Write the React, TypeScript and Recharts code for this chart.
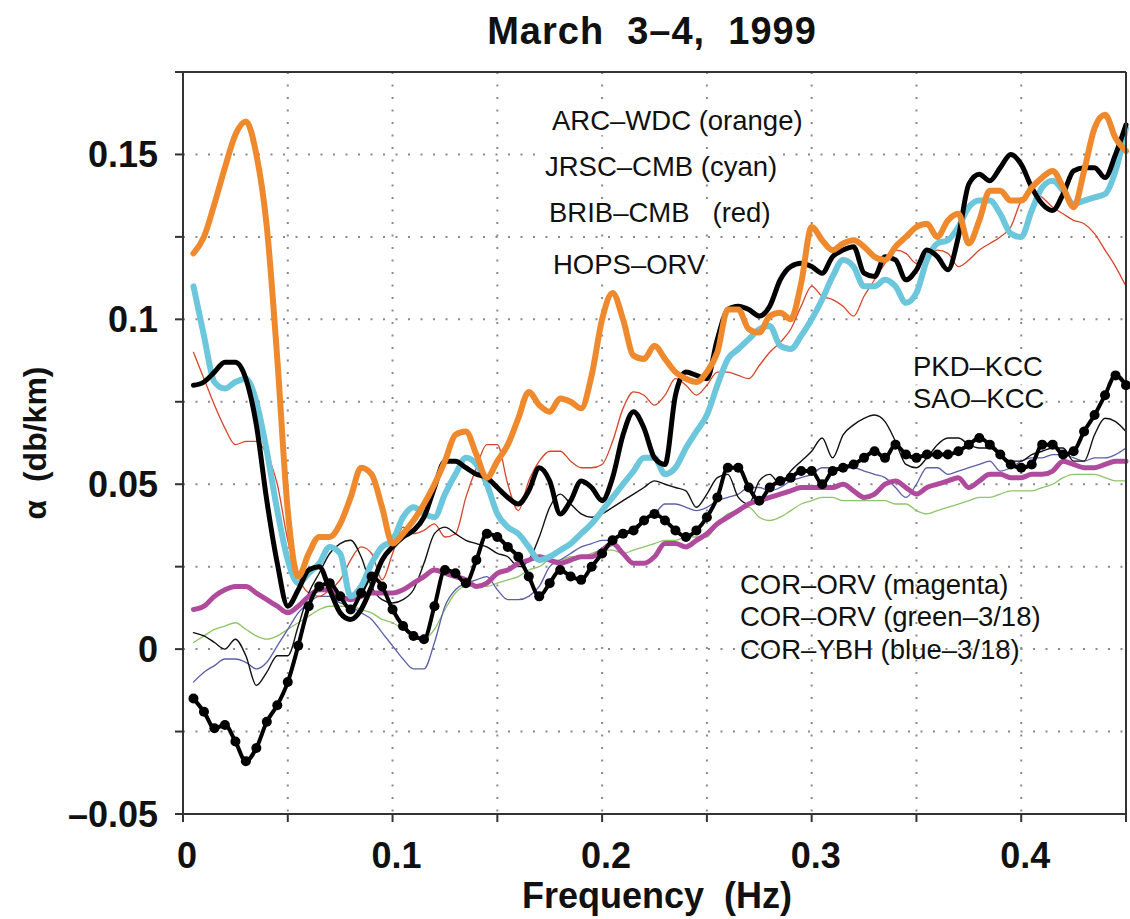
import { CartesianGrid, Line, LineChart, XAxis, YAxis } from "recharts";

const FONT = "'Liberation Sans', Arial, Helvetica, sans-serif";

// frequency grid, Hz
const freqs = Array.from({ length: 90 }, (_, i) => Number(((i + 1) * 0.005).toFixed(3)));

// attenuation (db/km) per station pair
const arcWdc = [
  0.120, 0.125, 0.135, 0.146, 0.156, 0.160, 0.150, 0.128, 0.088, 0.042,
  0.022, 0.029, 0.034, 0.034, 0.038, 0.046, 0.055, 0.053, 0.043, 0.032,
  0.035, 0.039, 0.044, 0.050, 0.057, 0.065, 0.066, 0.059, 0.052, 0.057,
  0.062, 0.070, 0.078, 0.074, 0.072, 0.076, 0.075, 0.073, 0.083, 0.100,
  0.108, 0.100, 0.089, 0.088, 0.092, 0.088, 0.084, 0.082, 0.081, 0.084,
  0.090, 0.103, 0.103, 0.097, 0.096, 0.101, 0.102, 0.100, 0.111, 0.128,
  0.124, 0.121, 0.123, 0.124, 0.122, 0.119, 0.118, 0.122, 0.125, 0.128,
  0.129, 0.125, 0.130, 0.132, 0.123, 0.130, 0.139, 0.139, 0.136, 0.136,
  0.140, 0.143, 0.145, 0.140, 0.134, 0.145, 0.158, 0.162, 0.155, 0.151,
];

const jrscCmb = [
  0.110, 0.095, 0.081, 0.079, 0.081, 0.082, 0.075, 0.060, 0.042, 0.027,
  0.020, 0.023, 0.026, 0.031, 0.029, 0.016, 0.019, 0.026, 0.031, 0.033,
  0.040, 0.043, 0.041, 0.040, 0.047, 0.053, 0.058, 0.056, 0.050, 0.041,
  0.037, 0.035, 0.031, 0.027, 0.028, 0.030, 0.032, 0.035, 0.038, 0.042,
  0.046, 0.050, 0.054, 0.058, 0.058, 0.053, 0.055, 0.061, 0.066, 0.071,
  0.080, 0.088, 0.091, 0.094, 0.097, 0.098, 0.092, 0.091, 0.095, 0.100,
  0.106, 0.113, 0.118, 0.116, 0.110, 0.110, 0.112, 0.110, 0.105, 0.108,
  0.118, 0.123, 0.124, 0.128, 0.134, 0.136, 0.136, 0.132, 0.126, 0.125,
  0.133, 0.140, 0.142, 0.139, 0.135, 0.136, 0.137, 0.138, 0.145, 0.158,
];

const bribCmb = [
  0.090, 0.082, 0.074, 0.067, 0.062, 0.063, 0.063, 0.059, 0.050, 0.033,
  0.022, 0.017, 0.016, 0.018, 0.021, 0.027, 0.031, 0.029, 0.021, 0.029,
  0.037, 0.035, 0.036, 0.038, 0.034, 0.035, 0.046, 0.055, 0.062, 0.062,
  0.050, 0.042, 0.051, 0.057, 0.060, 0.060, 0.057, 0.055, 0.055, 0.056,
  0.063, 0.073, 0.078, 0.077, 0.074, 0.077, 0.082, 0.080, 0.077, 0.080,
  0.084, 0.084, 0.083, 0.082, 0.086, 0.090, 0.093, 0.097, 0.104, 0.110,
  0.107, 0.106, 0.104, 0.101, 0.107, 0.112, 0.117, 0.121, 0.120, 0.117,
  0.119, 0.121, 0.120, 0.116, 0.118, 0.121, 0.123, 0.125, 0.128, 0.136,
  0.139, 0.137, 0.134, 0.132, 0.130, 0.129, 0.126, 0.121, 0.116, 0.110,
];

const hopsOrv = [
  0.080, 0.081, 0.084, 0.087, 0.087, 0.082, 0.068, 0.045, 0.026, 0.013,
  0.018, 0.024, 0.025, 0.018, 0.011, 0.009, 0.012, 0.019, 0.027, 0.031,
  0.034, 0.036, 0.040, 0.049, 0.057, 0.057, 0.055, 0.053, 0.052, 0.049,
  0.046, 0.044, 0.048, 0.055, 0.051, 0.041, 0.045, 0.051, 0.049, 0.045,
  0.052, 0.065, 0.072, 0.067, 0.058, 0.056, 0.077, 0.084, 0.083, 0.082,
  0.094, 0.103, 0.104, 0.103, 0.101, 0.104, 0.112, 0.116, 0.117, 0.116,
  0.114, 0.119, 0.121, 0.122, 0.114, 0.113, 0.119, 0.118, 0.112, 0.115,
  0.121, 0.119, 0.115, 0.125, 0.141, 0.144, 0.142, 0.146, 0.150, 0.147,
  0.140, 0.135, 0.133, 0.138, 0.145, 0.146, 0.146, 0.143, 0.150, 0.159,
];

const pkdKcc = [
  0.005, 0.004, 0.002, 0.000, 0.003, -0.002, -0.011, -0.007, -0.002, -0.002,
  0.007, 0.017, 0.023, 0.029, 0.032, 0.033, 0.028, 0.019, 0.015, 0.014,
  0.015, 0.018, 0.026, 0.035, 0.037, 0.035, 0.033, 0.032, 0.031, 0.029,
  0.028, 0.025, 0.027, 0.034, 0.043, 0.047, 0.044, 0.041, 0.040, 0.041,
  0.043, 0.045, 0.047, 0.049, 0.051, 0.050, 0.049, 0.048, 0.043, 0.047,
  0.052, 0.053, 0.046, 0.044, 0.051, 0.053, 0.050, 0.054, 0.057, 0.060,
  0.064, 0.058, 0.065, 0.068, 0.070, 0.071, 0.069, 0.063, 0.056, 0.055,
  0.058, 0.062, 0.064, 0.064, 0.062, 0.061, 0.061, 0.059, 0.057, 0.057,
  0.059, 0.060, 0.061, 0.061, 0.057, 0.057, 0.065, 0.070, 0.069, 0.066,
];

const saoKcc = [
  -0.015, -0.019, -0.024, -0.023, -0.028, -0.034, -0.030, -0.022, -0.017, -0.010,
  0.001, 0.013, 0.019, 0.020, 0.016, 0.012, 0.017, 0.022, 0.019, 0.012,
  0.007, 0.004, 0.003, 0.013, 0.024, 0.023, 0.020, 0.027, 0.035, 0.034,
  0.031, 0.028, 0.022, 0.016, 0.020, 0.024, 0.022, 0.021, 0.025, 0.029,
  0.033, 0.035, 0.036, 0.039, 0.041, 0.039, 0.036, 0.034, 0.036, 0.040,
  0.046, 0.055, 0.055, 0.049, 0.045, 0.049, 0.051, 0.052, 0.054, 0.054,
  0.050, 0.054, 0.055, 0.056, 0.058, 0.060, 0.058, 0.062, 0.059, 0.058,
  0.059, 0.059, 0.059, 0.060, 0.062, 0.064, 0.062, 0.059, 0.056, 0.055,
  0.056, 0.062, 0.062, 0.059, 0.060, 0.066, 0.071, 0.077, 0.083, 0.080,
];

const corOrv = [
  0.012, 0.013, 0.016, 0.018, 0.019, 0.019, 0.017, 0.015, 0.013, 0.011,
  0.013, 0.016, 0.018, 0.018, 0.016, 0.015, 0.016, 0.017, 0.017, 0.017,
  0.018, 0.020, 0.022, 0.024, 0.023, 0.022, 0.021, 0.019, 0.020, 0.023,
  0.024, 0.026, 0.027, 0.028, 0.027, 0.026, 0.027, 0.028, 0.028, 0.030,
  0.032, 0.029, 0.026, 0.026, 0.028, 0.032, 0.032, 0.031, 0.033, 0.035,
  0.038, 0.040, 0.042, 0.044, 0.045, 0.046, 0.047, 0.048, 0.049, 0.049,
  0.049, 0.049, 0.050, 0.048, 0.046, 0.047, 0.050, 0.051, 0.049, 0.047,
  0.049, 0.050, 0.051, 0.052, 0.049, 0.051, 0.053, 0.053, 0.052, 0.052,
  0.053, 0.053, 0.054, 0.057, 0.056, 0.055, 0.055, 0.056, 0.057, 0.057,
];

const corOrv318 = [
  0.002, 0.004, 0.006, 0.007, 0.008, 0.006, 0.004, 0.003, 0.004, 0.006,
  0.008, 0.010, 0.012, 0.013, 0.013, 0.013, 0.012, 0.011, 0.009, 0.008,
  0.006, 0.004, 0.003, 0.006, 0.012, 0.017, 0.019, 0.019, 0.019, 0.020,
  0.021, 0.022, 0.024, 0.025, 0.027, 0.027, 0.028, 0.028, 0.029, 0.030,
  0.030, 0.029, 0.030, 0.031, 0.032, 0.033, 0.033, 0.034, 0.034, 0.034,
  0.038, 0.041, 0.042, 0.043, 0.040, 0.039, 0.040, 0.042, 0.044, 0.045,
  0.046, 0.046, 0.045, 0.045, 0.045, 0.045, 0.045, 0.044, 0.044, 0.042,
  0.041, 0.042, 0.043, 0.044, 0.045, 0.046, 0.046, 0.047, 0.048, 0.048,
  0.048, 0.049, 0.050, 0.052, 0.053, 0.053, 0.053, 0.052, 0.051, 0.051,
];

const corYbh318 = [
  -0.010, -0.007, -0.005, -0.003, -0.003, -0.004, -0.006, -0.004, 0.001, 0.006,
  0.011, 0.014, 0.016, 0.016, 0.014, 0.013, 0.011, 0.009, 0.005, 0.001,
  -0.003, -0.006, -0.006, 0.002, 0.013, 0.018, 0.020, 0.021, 0.022, 0.018,
  0.015, 0.015, 0.016, 0.019, 0.025, 0.027, 0.029, 0.031, 0.032, 0.033,
  0.033, 0.035, 0.037, 0.039, 0.041, 0.044, 0.044, 0.043, 0.042, 0.043,
  0.045, 0.046, 0.047, 0.049, 0.049, 0.048, 0.049, 0.051, 0.052, 0.053,
  0.055, 0.055, 0.055, 0.055, 0.054, 0.053, 0.052, 0.049, 0.046, 0.050,
  0.055, 0.055, 0.053, 0.054, 0.055, 0.056, 0.057, 0.054, 0.055, 0.057,
  0.058, 0.058, 0.059, 0.059, 0.058, 0.057, 0.058, 0.058, 0.059, 0.061,
];

const xTicks = [0, 0.05, 0.1, 0.15, 0.2, 0.25, 0.3, 0.35, 0.4, 0.45];
const xLabels = ["0", "", "0.1", "", "0.2", "", "0.3", "", "0.4", ""];
const yTicks = [-0.05, -0.025, 0, 0.025, 0.05, 0.075, 0.1, 0.125, 0.15, 0.175];
const yLabels = ["–0.05", "", "0", "", "0.05", "", "0.1", "", "0.15", ""];

const rows = freqs.map((f, i) => ({
  f,
  arcWdc: arcWdc[i],
  jrscCmb: jrscCmb[i],
  bribCmb: bribCmb[i],
  hopsOrv: hopsOrv[i],
  pkdKcc: pkdKcc[i],
  saoKcc: saoKcc[i],
  corOrv: corOrv[i],
  corOrv318: corOrv318[i],
  corYbh318: corYbh318[i],
}));

// drawn back to front
const series = [
  { key: "corOrv318", color: "#8fc46a", width: 1.3 },
  { key: "corYbh318", color: "#5c5fa8", width: 1.3 },
  { key: "bribCmb", color: "#d8452a", width: 1.3 },
  { key: "pkdKcc", color: "#111111", width: 1.4 },
  { key: "corOrv", color: "#b04a9c", width: 5 },
  { key: "saoKcc", color: "#000000", width: 4, dots: true },
  { key: "jrscCmb", color: "#6cc6dc", width: 6 },
  { key: "hopsOrv", color: "#000000", width: 5 },
  { key: "arcWdc", color: "#ef892d", width: 6 },
];

const pickLabel = (ticks: number[], labels: string[]) => (v: number) => {
  const i = ticks.findIndex((t) => Math.abs(t - v) < 1e-9);
  return i < 0 ? "" : labels[i];
};

const tickFont = { fill: "#111", fontSize: 36, fontWeight: 700, fontFamily: FONT };
const axisStroke = { stroke: "#333", strokeWidth: 2 };

const note = (left: number, top: number, text: string, boxed = true) => (
  <div
    key={text}
    style={{
      position: "absolute",
      left,
      top,
      transform: "translateY(-50%)",
      fontSize: 27.5,
      lineHeight: 1,
      whiteSpace: "pre",
      color: "#111",
      background: boxed ? "#fff" : "transparent",
    }}
  >
    {text}
  </div>
);

export default function App() {
  return (
    <div
      style={{
        position: "absolute",
        left: 0,
        top: 0,
        width: 1130,
        height: 919,
        background: "#fff",
        fontFamily: FONT,
        overflow: "hidden",
      }}
    >
      <LineChart
        width={1130}
        height={919}
        data={rows}
        margin={{ top: 52, right: 0, bottom: 45, left: 73 }}
      >
        <CartesianGrid stroke="#8a8a8a" strokeWidth={2} strokeDasharray="2 10.5" />
        <XAxis
          dataKey="f"
          type="number"
          domain={[0, 0.45]}
          ticks={xTicks}
          interval={0}
          height={60}
          tickSize={8}
          tickMargin={20}
          tick={{ ...tickFont, dx: 4 }}
          tickFormatter={pickLabel(xTicks, xLabels)}
          axisLine={axisStroke}
          tickLine={axisStroke}
        />
        <XAxis
          xAxisId="top"
          orientation="top"
          dataKey="f"
          type="number"
          domain={[0, 0.45]}
          ticks={xTicks}
          interval={0}
          height={20}
          tickSize={8}
          tick={false}
          axisLine={axisStroke}
          tickLine={axisStroke}
        />
        <YAxis
          type="number"
          domain={[-0.05, 0.175]}
          ticks={yTicks}
          interval={0}
          width={110}
          tickSize={8}
          tickMargin={17}
          tick={tickFont}
          tickFormatter={pickLabel(yTicks, yLabels)}
          axisLine={axisStroke}
          tickLine={axisStroke}
        />
        <YAxis
          yAxisId="right"
          orientation="right"
          type="number"
          domain={[-0.05, 0.175]}
          ticks={yTicks}
          interval={0}
          width={4}
          tickSize={8}
          tick={false}
          axisLine={axisStroke}
          tickLine={axisStroke}
        />
        {series.map((s) => (
          <Line
            key={s.key}
            dataKey={s.key}
            type="monotone"
            stroke={s.color}
            strokeWidth={s.width}
            strokeLinejoin="round"
            strokeLinecap="round"
            dot={s.dots ? { r: 5, fill: "#000", stroke: "none" } : false}
            activeDot={false}
            isAnimationActive={false}
          />
        ))}
      </LineChart>

      <div
        style={{
          position: "absolute",
          left: 652,
          top: 31,
          transform: "translate(-50%, -50%)",
          fontSize: 38,
          fontWeight: 700,
          letterSpacing: 1,
          lineHeight: 1,
          whiteSpace: "pre",
          color: "#111",
        }}
      >
        {"March  3–4,  1999"}
      </div>
      <div
        style={{
          position: "absolute",
          left: 657,
          top: 896,
          transform: "translate(-50%, -50%)",
          fontSize: 36,
          fontWeight: 700,
          lineHeight: 1,
          whiteSpace: "pre",
          color: "#111",
        }}
      >
        {"Frequency  (Hz)"}
      </div>
      <div
        style={{
          position: "absolute",
          left: 35,
          top: 443,
          transform: "translate(-50%, -50%) rotate(-90deg)",
          fontSize: 32,
          fontWeight: 700,
          lineHeight: 1,
          whiteSpace: "pre",
          color: "#111",
        }}
      >
        {"α  (db/km)"}
      </div>

      {note(552, 121, "ARC–WDC (orange)")}
      {note(545, 167, "JRSC–CMB (cyan)")}
      {note(549, 213, "BRIB–CMB   (red)")}
      {note(553, 265, "HOPS–ORV")}
      {note(913, 367, "PKD–KCC")}
      {note(913, 399, "SAO–KCC")}
      {note(740, 585, "COR–ORV (magenta)", false)}
      {note(740, 617, "COR–ORV (green–3/18)", false)}
      {note(740, 650, "COR–YBH (blue–3/18)", false)}
    </div>
  );
}
